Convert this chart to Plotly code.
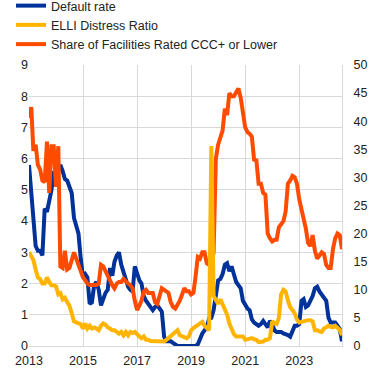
import pandas as pd
import plotly.graph_objects as go

dates = pd.date_range("2013-01-01", "2024-08-01", freq="MS")

default_rate = [
    5.8, 4.8, 4.2, 3.2, 3.05, 3.05, 2.9, 4.4, 4.3, 4.6, 5.0, 5.6,
    5.2, 5.65, 5.8, 5.6, 5.35, 5.3, 5.1, 4.9, 4.1, 3.9, 3.6, 2.8,
    2.2, 2.3, 2.2, 1.35, 1.4, 1.95, 2.05, 1.8, 1.3, 1.5, 1.7, 1.8,
    2.5, 2.25, 2.7, 2.9, 3.0, 2.6, 2.35, 2.2, 1.9, 1.8, 1.75, 2.55,
    2.3, 2.1, 2.0, 1.6, 1.45, 1.35, 1.3, 1.15, 1.25, 1.3, 1.2, 1.1,
    0.3, 0.15, 0.15, 0.15, 0.1, 0.05, 0, 0, 0, 0, 0, 0,
    0, 0, 0, 0.05, 0.25, 0.4, 0.5, 0.6, 0.88, 0.9, 1.15, 1.6,
    2.1, 2.15, 2.3, 2.6, 2.65, 2.4, 2.55, 2.3, 2.05, 1.95, 1.85, 1.45,
    1.3, 1.2, 1.15, 0.85, 0.75, 0.7, 0.65, 0.7, 0.8, 0.7, 0.6, 0.8,
    0.7, 0.5, 0.45, 0.45, 0.45, 0.4, 0.38, 0.35, 0.3, 0.5, 0.65, 0.65,
    0.7, 1.45, 1.5, 1.25, 1.3, 1.45, 1.6, 1.85, 1.9, 1.75, 1.65, 1.6,
    1.45, 0.9, 0.75, 0.75, 0.75, 0.65, 0.55, 0.15,
]

elli_distress = [
    16.7, 16.1, 15.3, 13.6, 12.2, 11.9, 11.1, 11.1, 12.2, 11.4, 10.8, 10.8,
    10.6, 9.2, 9.4, 8.3, 8.6, 7.8, 7.2, 5.8, 4.4, 4.2, 4.0, 3.9,
    3.1, 4.0, 3.1, 3.6, 3.1, 3.3, 3.1, 2.8, 3.6, 4.0, 3.8, 3.3,
    3.1, 2.8, 2.8, 2.5, 2.2, 2.5, 1.9, 2.5, 1.9, 2.5, 2.3, 2.5,
    2.2, 1.7, 1.4, 1.7, 1.1, 1.1, 0.9, 0.9, 0.8, 0.8, 0.8, 0.9,
    0.8, 1.1, 1.4, 1.7, 2.2, 2.5, 2.8, 1.9, 1.7, 1.7, 1.4, 1.7,
    2.8, 3.2, 3.5, 3.7, 4.0, 4.3, 3.6, 3.1, 2.8, 35.6, 8.9, 8.2,
    7.5, 8.3, 7.5, 6.7, 5.6, 4.0, 2.8, 2.1, 1.7, 1.7, 1.7, 1.7,
    1.1, 1.2, 1.4, 1.4, 1.2, 1.1, 0.7, 0.7, 0.8, 1.1, 1.1, 1.4,
    4.4, 4.0, 3.9, 5.0, 9.2, 10.0, 9.7, 8.1, 6.9, 6.4, 5.8, 4.7,
    4.2, 4.3, 4.4, 4.6, 4.6, 4.6, 4.4, 2.8, 2.8, 2.6, 2.5, 3.1,
    3.3, 3.6, 3.4, 3.3, 3.6, 3.3, 2.9, 1.9,
]

ccc_share = [
    7.3, 7.65, 6.25, 6.45, 5.8, 5.65, 5.3, 5.25, 6.55, 4.9, 6.4, 6.4,
    5.1, 6.4, 2.55, 2.5, 3.05, 2.45, 2.5, 2.75, 3.0, 2.8, 2.6, 2.4,
    2.2, 2.1, 2.0, 1.95, 1.95, 1.95, 1.95, 2.0, 2.6, 2.55, 2.4, 2.2,
    2.05, 1.95, 1.85, 2.0, 2.05, 2.05, 2.15, 2.05, 2.0, 1.95, 1.85, 1.45,
    1.15, 1.3, 1.45, 1.75, 1.8, 1.7, 1.7, 1.7, 1.4, 1.35, 1.6, 1.85,
    1.8, 1.75, 1.7, 1.4, 1.25, 1.2, 1.3, 1.45, 1.65, 1.85, 1.75, 1.75,
    1.65, 1.7, 2.2, 2.85, 2.8, 3.0, 3.0, 2.65, 2.6, 2.6, 3.0, 6.0,
    6.45, 6.7, 6.9, 7.6, 7.4, 8.1, 8.0, 8.0, 8.15, 8.25, 7.95, 7.4,
    7.0, 6.85, 6.8, 6.7, 5.97, 5.95, 5.2, 5.2, 4.9, 4.85, 3.6, 3.45,
    3.35, 3.4, 3.4, 3.8, 3.9, 4.0, 4.3, 5.2, 5.3, 5.45, 5.4, 5.2,
    4.7, 4.4, 4.0, 3.75, 3.3, 3.2, 3.55, 3.05, 2.8, 2.9, 3.0, 2.95,
    2.6, 2.5, 2.5, 3.1, 3.45, 3.6, 3.55, 3.1,
]

names = ["Default rate", "ELLI Distress Ratio", "Share of Facilities Rated CCC+ or Lower"]
colors = ["#003299", "#ffb400", "#ff4b00"]

FONT = "Liberation Sans, Arial, sans-serif"
GRID = "#d9d9d9"

fig = go.Figure()
fig.add_trace(go.Scatter(x=dates, y=default_rate, name=names[0], mode="lines",
                         line=dict(color=colors[0], width=4), legendrank=1, yaxis="y"))
fig.add_trace(go.Scatter(x=dates, y=ccc_share, name=names[2], mode="lines",
                         line=dict(color=colors[2], width=4), legendrank=3, yaxis="y"))
fig.add_trace(go.Scatter(x=dates, y=elli_distress, name=names[1], mode="lines",
                         line=dict(color=colors[1], width=4), legendrank=2, yaxis="y2"))

fig.update_layout(
    width=372, height=373,
    margin=dict(l=29, r=30, t=65, b=27, autoexpand=False),
    paper_bgcolor="white", plot_bgcolor="white",
    font=dict(family=FONT, size=12, color="#222222"),
    legend=dict(x=-18/313, y=1 + 74/281, yanchor="top",
                xanchor="left", bgcolor="rgba(0,0,0,0)", font=dict(size=12.5),
                tracegroupgap=0, itemwidth=30),
    showlegend=True,
    xaxis=dict(type="date", range=[dates[0], dates[-1]], tick0="2013-01-01", dtick="M24",
               tickformat="%Y", showgrid=True, gridcolor=GRID, gridwidth=1,
               showline=True, linecolor=GRID, linewidth=1, ticks="", zeroline=False,
               ticklabelstandoff=3, tickfont=dict(size=12.5)),
    yaxis=dict(range=[0, 9], dtick=1, showgrid=True, gridcolor=GRID, gridwidth=1,
               zeroline=False, showline=False, ticks="", tickfont=dict(size=12.5)),
    yaxis2=dict(range=[0, 50], dtick=5, overlaying="y", side="right", showgrid=False,
                zeroline=False, showline=True, linecolor=GRID, linewidth=1, ticks="",
                ticklabelstandoff=8, tickfont=dict(size=12.5)),
)

fig.write_html("out.html", config={"displayModeBar": False},
               post_script="document.body.style.margin='0';")
